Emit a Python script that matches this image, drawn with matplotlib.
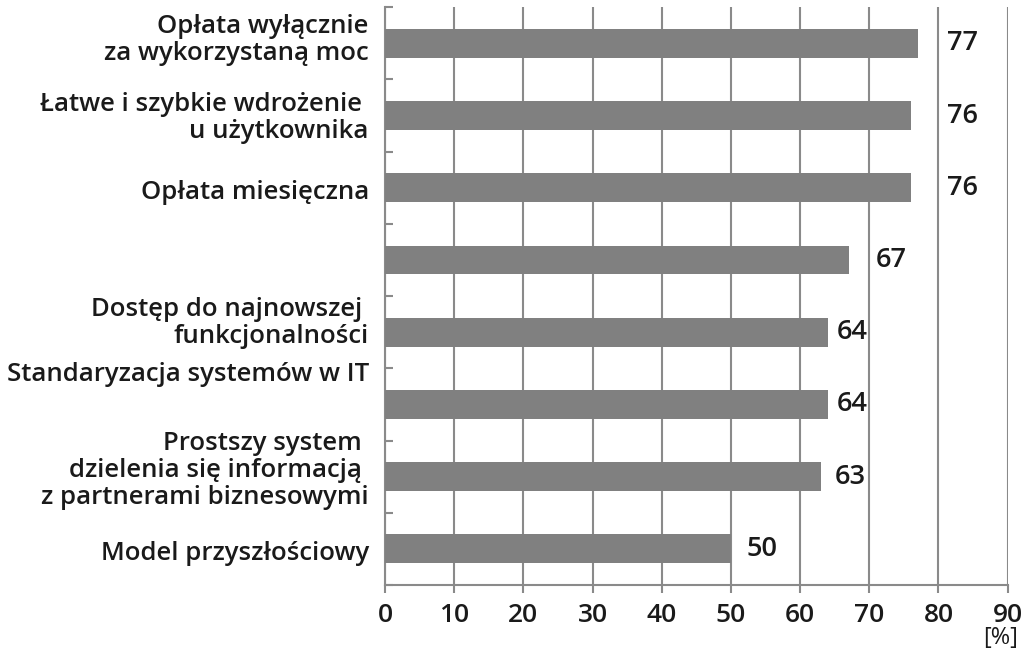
import numpy as np
import matplotlib
matplotlib.use('Agg')
import matplotlib.pyplot as plt

plt.rcParams.update({
    'font.family': ['Open Sans', 'DejaVu Sans'],
    'font.size': 18,
})

# Data
labels = [
    'Opłata wyłącznie\nza wykorzystaną moc',
    'Łatwe i szybkie wdrożenie \nu użytkownika',
    'Opłata miesięczna',
    '',
    'Dostęp do najnowszej \nfunkcjonalności',
    'Standaryzacja systemów w IT',
    'Prostszy system \ndzielenia się informacją \nz partnerami biznesowymi',
    'Model przyszłościowy',
]
values = [77, 76, 76, 67, 64, 64, 63, 50]
x_ticks = [0, 10, 20, 30, 40, 50, 60, 70, 80, 90]

# label placement tweaks (as in the original layout)
label_shift = [-0.04, 0.03, 0.07, 0.0, -0.13, -0.42, -0.08, 0.07]
value_pad = [4.2, 5.2, 5.2, 3.9, 1.3, 1.3, 2.0, 2.3]

GRID = '#8a8a8a'
BAR = '#808080'
TXT = '#1a1a1a'

fig = plt.figure(figsize=(10.24, 6.54), dpi=100)
ax = fig.add_axes([0.376, 0.1055, 0.608, 0.8835])

y = np.arange(len(values))
ax.barh(y, values, height=0.4, color=BAR, zorder=3)

ax.set_xlim(0, 90)
ax.set_ylim(len(values) - 0.5, -0.5)
ax.set_xticks(x_ticks)
ax.set_xticklabels([str(t) for t in x_ticks], color=TXT, fontweight='semibold')
ax.xaxis.grid(True, color=GRID, linewidth=1.5, zorder=1)
ax.tick_params(axis='x', length=6, width=1.5, color=GRID, pad=7,
               labelsize=19)

ax.set_yticks([])
ax.set_yticks(np.arange(-0.5, len(values)), minor=True)
ax.tick_params(axis='y', which='minor', direction='in', length=6, width=1.5,
               color=GRID, labelleft=False)

for s in ['top', 'right']:
    ax.spines[s].set_visible(False)
for s in ['left', 'bottom']:
    ax.spines[s].set_color(GRID)
    ax.spines[s].set_linewidth(1.5)

for i, (lab, sh) in enumerate(zip(labels, label_shift)):
    if lab:
        ax.text(-0.026, i + sh, lab, transform=ax.get_yaxis_transform(),
                ha='right', va='center', fontsize=18.5, fontweight='semibold',
                color=TXT, linespacing=1.1)

for i, (v, p) in enumerate(zip(values, value_pad)):
    ax.text(v + p, i, str(v), ha='left', va='center', fontsize=19.5,
            fontweight='semibold', color=TXT)

fig.text(0.994, 0.025, '[%]', ha='right', va='center', fontsize=17, color=TXT)

fig.savefig('out.png', dpi=100)
